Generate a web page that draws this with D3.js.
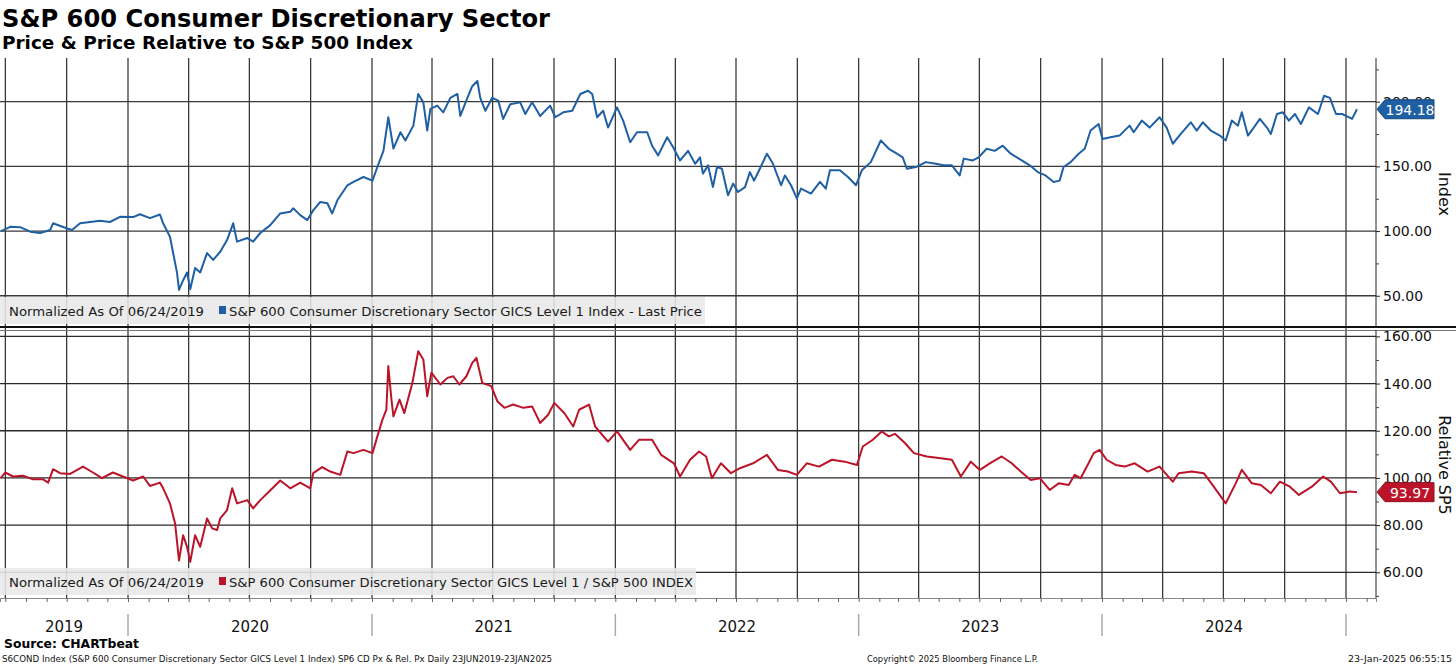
<!DOCTYPE html>
<html><head><meta charset="utf-8">
<script src="https://cdn.jsdelivr.net/npm/d3@7"></script>
<style>
body{margin:0;background:#fff;}
svg{display:block;}
text{font-family:"DejaVu Sans","Liberation Sans",sans-serif;}
</style>
</head><body>
<svg id="c" width="1456" height="665"></svg>
<script>
// ---- data (decimal-year dates) ----
const priceDates = [2019.478,2019.516,2019.557,2019.598,2019.639,2019.680,2019.692,2019.750,2019.770,2019.803,2019.885,2019.926,2019.967,2020.021,2020.049,2020.090,2020.131,2020.144,2020.172,2020.185,2020.201,2020.209,2020.226,2020.242,2020.255,2020.275,2020.296,2020.324,2020.349,2020.378,2020.406,2020.431,2020.447,2020.489,2020.513,2020.542,2020.583,2020.624,2020.665,2020.677,2020.706,2020.735,2020.759,2020.788,2020.817,2020.837,2020.858,2020.899,2020.924,2020.965,2021.002,2021.022,2021.047,2021.067,2021.088,2021.117,2021.137,2021.170,2021.190,2021.211,2021.227,2021.240,2021.268,2021.293,2021.322,2021.351,2021.363,2021.392,2021.412,2021.433,2021.445,2021.466,2021.494,2021.519,2021.539,2021.568,2021.609,2021.630,2021.658,2021.691,2021.732,2021.753,2021.786,2021.823,2021.856,2021.888,2021.905,2021.925,2021.950,2021.970,2022.007,2022.032,2022.061,2022.089,2022.131,2022.151,2022.176,2022.213,2022.237,2022.266,2022.299,2022.328,2022.348,2022.360,2022.381,2022.401,2022.418,2022.438,2022.463,2022.484,2022.504,2022.533,2022.553,2022.570,2022.594,2022.623,2022.648,2022.681,2022.697,2022.722,2022.746,2022.763,2022.804,2022.841,2022.865,2022.882,2022.923,2022.956,2022.989,2023.013,2023.050,2023.091,2023.124,2023.157,2023.181,2023.198,2023.235,2023.276,2023.317,2023.350,2023.383,2023.415,2023.432,2023.469,2023.493,2023.526,2023.559,2023.592,2023.625,2023.670,2023.703,2023.736,2023.768,2023.801,2023.826,2023.842,2023.871,2023.904,2023.929,2023.953,2023.986,2024.002,2024.035,2024.072,2024.113,2024.130,2024.163,2024.195,2024.236,2024.265,2024.290,2024.323,2024.364,2024.388,2024.413,2024.446,2024.483,2024.507,2024.532,2024.557,2024.573,2024.598,2024.622,2024.647,2024.676,2024.692,2024.717,2024.741,2024.766,2024.791,2024.815,2024.848,2024.885,2024.910,2024.934,2024.959,2024.984,2025.000,2025.025,2025.045];
const priceValues = [100,103.3,103,99.5,98.5,100.8,106,102,100.8,106,108,107,111,110.8,113,110,112.8,106,95.6,83,67.7,54.6,62,68,55,71.5,68,83,77.7,84,93,106,91.8,94.6,91.8,98.5,104.6,113.6,114.9,117.6,112.3,108.5,116,122.5,121.5,113.6,123.8,135.4,138,141.8,139,149.5,162,188,163.8,176.4,170,181.5,206,199.5,177.7,194.4,197,191.8,203,206,189,203,212,216,203,193,203,200.8,186.7,198,199.5,190.5,199.5,189,197,188,191.8,193,206,208.5,206,188,193,180,195.6,185.4,168.7,176.4,176.4,166,158.5,172.5,165,154.6,162,152,157,144.4,150.8,134,149.5,148.2,127.7,136.7,130.2,134,145.6,139,148.2,159.8,152,135.4,143,135.4,125.2,132.8,129,138,132.8,147,147,141.8,135.4,147,153.3,170,163.6,159.8,157,148.2,149.5,153.3,152,150.8,150.8,143,156,154.6,157,163.6,162,166,159.8,154.6,150.8,145.6,143,138,139,149.5,153.3,159.8,163.6,177.7,182.8,171.2,172.5,173.8,181.5,176.4,185.4,180,188,180,167.5,175.1,184.1,177.7,184.1,177.7,173.8,170,185.4,181.5,191.8,173.8,180,186.7,180,175.1,190.5,191.8,185.4,190.5,182.8,195.6,190.5,204.6,203,190.5,190.5,189,186.7,194.18];

const relDates = [2019.478,2019.495,2019.528,2019.569,2019.610,2019.651,2019.672,2019.692,2019.721,2019.762,2019.815,2019.856,2019.893,2019.938,2019.979,2020.021,2020.062,2020.090,2020.131,2020.144,2020.172,2020.193,2020.209,2020.226,2020.242,2020.255,2020.275,2020.296,2020.324,2020.345,2020.365,2020.378,2020.406,2020.427,2020.447,2020.489,2020.513,2020.542,2020.571,2020.624,2020.665,2020.706,2020.747,2020.759,2020.796,2020.829,2020.870,2020.899,2020.924,2020.965,2021.002,2021.022,2021.043,2021.059,2021.067,2021.080,2021.088,2021.113,2021.133,2021.166,2021.190,2021.211,2021.227,2021.244,2021.281,2021.310,2021.334,2021.359,2021.388,2021.412,2021.429,2021.453,2021.490,2021.515,2021.544,2021.580,2021.622,2021.658,2021.691,2021.724,2021.749,2021.790,2021.827,2021.851,2021.892,2021.917,2021.970,2022.007,2022.061,2022.098,2022.151,2022.188,2022.241,2022.266,2022.307,2022.344,2022.373,2022.397,2022.434,2022.475,2022.512,2022.566,2022.623,2022.668,2022.709,2022.746,2022.787,2022.837,2022.890,2022.943,2022.993,2023.017,2023.058,2023.095,2023.124,2023.149,2023.190,2023.227,2023.280,2023.329,2023.383,2023.420,2023.461,2023.498,2023.539,2023.588,2023.629,2023.666,2023.707,2023.744,2023.785,2023.822,2023.863,2023.888,2023.912,2023.941,2023.966,2023.990,2024.019,2024.056,2024.093,2024.134,2024.187,2024.236,2024.290,2024.314,2024.368,2024.417,2024.458,2024.507,2024.548,2024.573,2024.614,2024.651,2024.692,2024.729,2024.770,2024.807,2024.860,2024.906,2024.938,2024.975,2025.016,2025.045];
const relValues = [100,102.3,100.6,100.9,99.4,99.4,98,103.7,102,101.7,104.8,102.3,99.9,102.3,100.6,98.9,100.6,96.6,98,95.6,89.2,80.7,65,75.7,70.8,64.4,75.7,70.8,82.8,78.6,77.9,82.8,86.4,95.6,89.2,90.6,87.1,90.6,93.5,98.9,95.6,98,95.6,102,104.6,102.7,101.3,111.2,110.5,111.9,110.5,117.6,124.7,128.9,147.4,133.2,126.1,133.2,127.5,140.3,153.7,150.2,134.6,144.6,139.6,142.4,143.1,139.6,143.1,148.8,150.9,140.3,138.9,132.5,129.7,131.1,129.7,130.3,123.3,126.8,131.8,127.5,121.8,128.9,131.1,121.8,115.4,119.7,111.9,116.2,116.2,109.8,106.2,100.6,107.7,111.2,109.1,99.9,106.2,102,104.1,106.2,109.8,103.4,102.7,101.3,106.2,104.8,107.7,106.9,105.5,113.3,116.2,119.7,117.6,118.7,114.8,110.5,109.1,108.4,107.7,100.6,106.9,103.4,106.2,109.1,106.2,102.7,99.1,99.9,94.9,97.7,97,101.3,99.9,105.5,110.5,111.9,107.7,105.5,104.8,106.2,102.7,104.8,98.4,102,102.7,102,96.3,89.2,97.7,103.4,97.7,97,93.5,98.4,96.3,92.8,96.3,100.6,98.4,93.5,94.2,93.97];

const priceTicks = [50,100,150,200];
const priceMinor = [75,125,175,225];
const relTicks = [60,80,100,120,140,160];
const relMinor = [50,70,90,110,130,150];
const yearLabels = [2019,2020,2021,2022,2023,2024];
const lastPrice = 194.18, lastRel = 93.97;

const titleText = "S&P 600 Consumer Discretionary Sector";
const subtitleText = "Price & Price Relative to S&P 500 Index";
const legendNote = "Normalized As Of 06/24/2019";
const priceName = "S&P 600 Consumer Discretionary Sector GICS Level 1 Index - Last Price";
const relName = "S&P 600 Consumer Discretionary Sector GICS Level 1 / S&P 500 INDEX";

// ---- helpers ----
function toDate(t){const y=Math.floor(t);const s=new Date(y,0,1),e=new Date(y+1,0,1);return new Date(+s+(t-y)*(e-s));}
const priceData = priceDates.map((t,i)=>({d:toDate(t),v:priceValues[i]})).filter(p=>p.v!==undefined);
const relData = relDates.map((t,i)=>({d:toDate(t),v:relValues[i]})).filter(p=>p.v!==undefined);

const BLUE="#1f5fa3", RED="#bb1429";
const svg=d3.select("#c");
const plotL=0, plotR=1376, upTop=58, upBot=326, loTop=330, loBot=598;
const x=d3.scaleTime().domain([new Date(2019,5,23),new Date(2025,1,15)]).range([plotL,plotR]);
const yP=d3.scaleLinear().domain([26.6,233.8]).range([upBot,upTop]);
const yR=d3.scaleLinear().domain([49.1,162.7]).range([loBot,loTop]);

// vertical quarterly grid
const quarters=x.ticks(d3.timeMonth.every(3));
svg.append("g").selectAll("line").data(quarters).join("line")
  .attr("x1",d=>x(d)).attr("x2",d=>x(d)).attr("y1",upTop).attr("y2",loBot)
  .attr("stroke","#2a2a2a").attr("stroke-width",1.2);
// horizontal grids
svg.append("g").selectAll("line").data(priceTicks).join("line")
  .attr("x1",plotL).attr("x2",plotR).attr("y1",d=>yP(d)).attr("y2",d=>yP(d))
  .attr("stroke","#3a3a3a").attr("stroke-width",1.3);
svg.append("g").selectAll("line").data(relTicks).join("line")
  .attr("x1",plotL).attr("x2",plotR).attr("y1",d=>yR(d)).attr("y2",d=>yR(d))
  .attr("stroke","#2a2a2a").attr("stroke-width",1.3);

// lines
svg.append("path").datum(priceData)
  .attr("d",d3.line().x(d=>x(d.d)).y(d=>yP(d.v)))
  .attr("fill","none").attr("stroke",BLUE).attr("stroke-width",2).attr("stroke-linejoin","round");
svg.append("path").datum(relData)
  .attr("d",d3.line().x(d=>x(d.d)).y(d=>yR(d.v)))
  .attr("fill","none").attr("stroke",RED).attr("stroke-width",2).attr("stroke-linejoin","round");

// panel separator
svg.append("line").attr("x1",0).attr("x2",1456).attr("y1",327).attr("y2",327).attr("stroke","#111").attr("stroke-width",2);
svg.append("line").attr("x1",0).attr("x2",1456).attr("y1",330.5).attr("y2",330.5).attr("stroke","#777").attr("stroke-width",1);

// legends
function legend(y0,color,name,nameW){
  const g=svg.append("g");
  g.append("rect").attr("x",0).attr("y",y0).attr("width",nameW+232).attr("height",27)
    .attr("fill","#e8e8e8").attr("fill-opacity",0.88);
  g.append("text").attr("x",9).attr("y",y0+19).attr("font-size",13).attr("fill","#1a1a1a")
    .attr("textLength",195).attr("lengthAdjust","spacingAndGlyphs").text(legendNote);
  g.append("rect").attr("x",219).attr("y",y0+9).attr("width",7).attr("height",8).attr("fill",color);
  g.append("text").attr("x",229).attr("y",y0+19).attr("font-size",13).attr("fill","#1a1a1a")
    .attr("textLength",nameW).attr("lengthAdjust","spacingAndGlyphs").text(name);
}
legend(297,BLUE,priceName,473);
legend(568,RED,relName,464);

// right axes
function rightAxis(scale,major,minor,top,bot){
  const g=svg.append("g").attr("transform",`translate(${plotR},0)`);
  g.append("line").attr("x1",0).attr("x2",0).attr("y1",top).attr("y2",bot).attr("stroke","#222").attr("stroke-width",1);
  const a=g.append("g").call(d3.axisRight(scale).tickValues(major).tickSize(4).tickPadding(3).tickFormat(d3.format(".2f")));
  a.select(".domain").remove();
  a.selectAll("line").attr("stroke","#222");
  a.selectAll("text").attr("font-size",14).attr("fill","#111").attr("font-family","DejaVu Sans");
  const m=g.append("g").call(d3.axisRight(scale).tickValues(minor).tickSize(3).tickFormat(""));
  m.select(".domain").remove();
  m.selectAll("line").attr("stroke","#444");
}
rightAxis(yP,priceTicks,priceMinor,upTop,upBot);
rightAxis(yR,relTicks,relMinor,loTop,loBot);

// axis titles
svg.append("text").attr("transform",`translate(1439,${194}) rotate(90)`).attr("text-anchor","middle")
  .attr("font-size",16).attr("fill","#111").text("Index");
svg.append("text").attr("transform",`translate(1439,${465}) rotate(90)`).attr("text-anchor","middle")
  .attr("font-size",16).attr("fill","#111").text("Relative SP5");

// value badges
function badge(yv,color,label){
  const x0=plotR+1, h=19;
  svg.append("path").attr("d",`M${x0},${yv} L${x0+8},${yv-h/2} L${x0+57},${yv-h/2} L${x0+57},${yv+h/2} L${x0+8},${yv+h/2} Z`)
    .attr("fill",color).attr("stroke",d3.color(color).darker(0.8)).attr("stroke-width",1);
  svg.append("text").attr("x",x0+33).attr("y",yv+5.5).attr("text-anchor","middle").attr("font-size",14)
    .attr("fill","#fff").text(label);
}
badge(yP(lastPrice),BLUE,d3.format(".2f")(lastPrice));
badge(yR(lastRel),RED,d3.format(".2f")(lastRel));

// bottom axis (monthly ticks)
const bx=svg.append("g").attr("transform",`translate(0,${loBot})`)
  .call(d3.axisBottom(x).ticks(d3.timeMonth.every(1)).tickSize(4).tickFormat(""));
bx.select(".domain").attr("stroke","#888");
bx.selectAll("line").attr("stroke","#666");

// year separators and labels
const d0=x.domain()[0], d1=x.domain()[1];
const yearStarts=x.ticks(d3.timeYear.every(1));
svg.append("g").selectAll("line").data(yearStarts).join("line")
  .attr("x1",d=>x(d)).attr("x2",d=>x(d)).attr("y1",614).attr("y2",636)
  .attr("stroke","#aaa").attr("stroke-width",1.5);
svg.append("g").selectAll("text").data(yearLabels).join("text")
  .attr("x",yr=>{const a=Math.max(+new Date(yr,0,1),+d0), b=Math.min(+new Date(yr+1,0,1),+d1);return (x(new Date(a))+x(new Date(b)))/2;})
  .attr("y",632).attr("text-anchor","middle").attr("font-size",15).attr("fill","#111")
  .text(d=>String(d));

// titles
svg.append("text").attr("x",2).attr("y",27).attr("font-size",24).attr("font-weight","bold").attr("fill","#000")
  .attr("textLength",548).attr("lengthAdjust","spacingAndGlyphs").text(titleText);
svg.append("text").attr("x",2).attr("y",49).attr("font-size",17).attr("font-weight","bold").attr("fill","#000")
  .attr("textLength",411).attr("lengthAdjust","spacingAndGlyphs").text(subtitleText);

// footer
svg.append("text").attr("x",4).attr("y",648).attr("font-size",13).attr("font-weight","bold").attr("fill","#000")
  .attr("textLength",135).attr("lengthAdjust","spacingAndGlyphs").text("Source: CHARTbeat");
svg.append("text").attr("x",2).attr("y",662).attr("font-size",9.5).attr("fill","#111")
  .attr("textLength",550).attr("lengthAdjust","spacingAndGlyphs")
  .text("S6COND Index (S&P 600 Consumer Discretionary Sector GICS Level 1 Index) SP6 CD Px & Rel. Px  Daily 23JUN2019-23JAN2025");
svg.append("text").attr("x",867).attr("y",662).attr("font-size",9.5).attr("fill","#111")
  .attr("textLength",171).attr("lengthAdjust","spacingAndGlyphs").text("Copyright\u00A9 2025 Bloomberg Finance L.P.");
svg.append("text").attr("x",1452).attr("y",662).attr("font-size",9.5).attr("fill","#111").attr("text-anchor","end")
  .text("23-Jan-2025 06:55:15");
</script>
</body></html>
